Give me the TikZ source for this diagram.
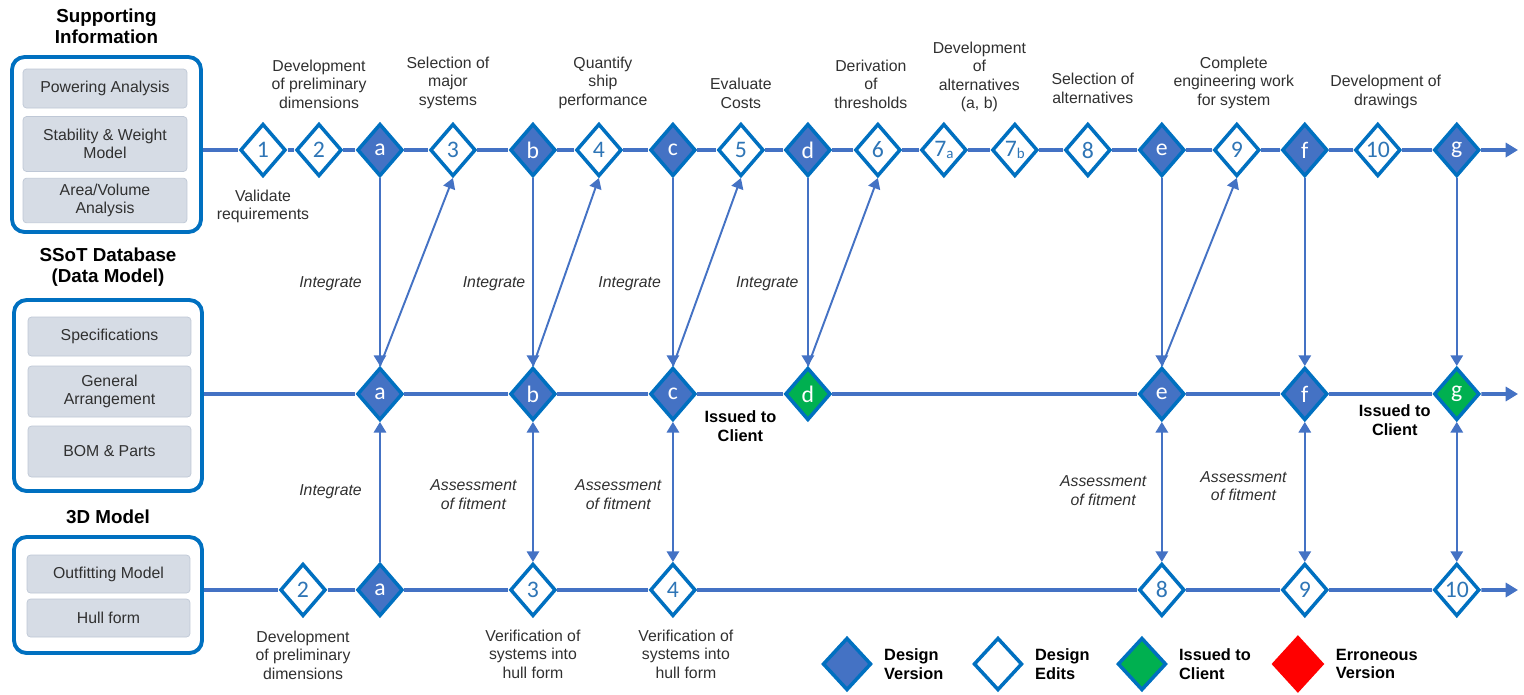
\documentclass[tikz,border=0pt]{standalone}
\usepackage{fontspec}
\setmainfont{Liberation Sans}
\newfontfamily\diafont{Carlito}
\usetikzlibrary{shapes.geometric,arrows.meta,positioning,calc}
\definecolor{verblue}{HTML}{4472C4}
\definecolor{rimblue}{HTML}{0070C0}
\definecolor{edittext}{HTML}{2E75B6}
\definecolor{issgreen}{HTML}{00B050}
\definecolor{boxgrey}{HTML}{D6DCE5}
\definecolor{boxline}{HTML}{BFC8D6}
\definecolor{txtgrey}{HTML}{303030}
\newcommand{\lowidx}[1]{{\fontsize{8.5}{8.5}\selectfont\raisebox{-0.4ex}{#1}}}
\tikzset{
    dia/.style = {diamond, draw=rimblue, line width=2pt,
        minimum width=0.91cm, minimum height=1.05cm, inner sep=0pt,
        font=\diafont\fontsize{13.5}{14}\selectfont},
    ver/.style = {dia, fill=verblue, text=white},
    edit/.style = {dia, fill=white, text=edittext},
    iss/.style = {dia, fill=issgreen, text=white},
    err/.style = {diamond, fill=red, minimum width=1.06cm, minimum height=1.16cm, inner sep=0pt},
    panel/.style = {draw=rimblue, line width=2.2pt, rounded corners=0.25cm, fill=white},
    item/.style = {draw=boxline, fill=boxgrey, rounded corners=2pt, minimum width=3.28cm,
        align=center, text=txtgrey, font=\fontsize{9}{10.4}\selectfont},
    head/.style = {align=center, font=\bfseries\fontsize{10.7}{12.3}\selectfont},
    lbl/.style = {align=center, text=txtgrey, font=\fontsize{9}{10.4}\selectfont},
    act/.style = {lbl, font=\itshape\fontsize{9}{10.4}\selectfont},
    key/.style = {align=left, font=\bfseries\fontsize{9.3}{10.6}\selectfont},
    track/.style = {draw=verblue, line width=2.2pt},
    trackend/.style = {track, -{Triangle[length=7pt,width=8pt]}},
    link/.style = {draw=verblue, line width=1.1pt}
}

\begin{document}
\begin{tikzpicture}[x=0.02cm, y=-0.02cm, >={Triangle[length=6pt,width=7pt]}]
        \useasboundingbox (0,0) rectangle (1524,694);
        % information sources
        \node [panel, minimum width=3.78cm, minimum height=3.5cm] (sup) at (106.5,144.5) {};
        \node [head, above=0.1cm of sup] (suptitle) {Supporting\\Information};
        \node [item, minimum height=0.78cm] (pow) at (105,88.5) {Powering Analysis};
        \node [item, minimum height=1.1cm] (stab) at (105,144) {Stability \& Weight\\Model};
        \node [item, minimum height=0.82cm] (area) at (105,200.5) {Area/Volume\\Analysis};
        \node [panel, minimum width=3.76cm, minimum height=3.82cm] (dbm) at (108,395.5) {};
        \node [head, above=0.1cm of dbm] (dbmtitle) {SSoT Database\\(Data Model)};
        \node [item, minimum width=3.26cm, minimum height=0.78cm] (spec) at (109.5,336.5) {Specifications};
        \node [item, minimum width=3.26cm, minimum height=1.02cm] (ga) at (109.5,391.5) {General\\Arrangement};
        \node [item, minimum width=3.26cm, minimum height=1.02cm] (bom) at (109.5,451.5) {BOM \& Parts};
        \node [panel, minimum width=3.76cm, minimum height=2.32cm] (mdl) at (108,595) {};
        \node [head, above=0.1cm of mdl] (mdltitle) {3D Model};
        \node [item, minimum width=3.26cm, minimum height=0.76cm] (outf) at (108.5,574) {Outfitting Model};
        \node [item, minimum width=3.26cm, minimum height=0.76cm] (hull) at (108.5,618) {Hull form};
        % supporting information row
        \node [edit] (t1) at (263,150) {1};
        \foreach \n/\p/\d/\s/\t in {2/1/1.12/edit/2, a/2/1.22/ver/a, 3/a/1.46/edit/3, b/3/1.60/ver/b,
            4/b/1.32/edit/4, c/4/1.48/ver/c, 5/c/1.36/edit/5, d/5/1.34/ver/d, 6/d/1.40/edit/6,
            7a/6/1.32/edit/{7\lowidx{a}}, 7b/7a/1.42/edit/{7\lowidx{b}}, 8/7b/1.46/edit/8, e/8/1.48/ver/e,
            9/e/1.50/edit/9, f/9/1.36/ver/f, 10/f/1.46/edit/10, g/10/1.58/ver/g}{
            \node [\s, right of=t\p, node distance=\d cm] (t\n) {\t};
        }
        % database row
        \foreach \v/\s in {a/ver, b/ver, c/ver, d/iss, e/ver, f/ver, g/iss}{
            \node [\s, below of=t\v, node distance=4.88cm] (m\v) {\v};
        }
        % 3D model row
        \node [ver, below of=ma, node distance=3.92cm] (ba) {a};
        \node [edit, left of=ba, node distance=1.54cm] (b2) {2};
        \foreach \n/\v in {3/b, 4/c, 8/e, 9/f, 10/g}{
            \node [edit, below of=m\v, node distance=3.92cm] (b\n) {\n};
        }
        \coordinate (topend) at (1518,150);
        \coordinate (midend) at (1518,394);
        \coordinate (botend) at (1518,590);
        \draw [track] (sup.east |- t1) -- (t1) -- (t2) -- (ta) -- (t3) -- (tb) -- (t4) -- (tc) -- (t5) -- (td)
            -- (t6) -- (t7a) -- (t7b) -- (t8) -- (te) -- (t9) -- (tf) -- (t10) -- (tg);
        \draw [trackend] (tg) -- (topend);
        \draw [track] (dbm.east |- ma) -- (ma) -- (mb) -- (mc) -- (md) -- (me) -- (mf) -- (mg);
        \draw [trackend] (mg) -- (midend);
        \draw [track] (mdl.east |- b2) -- (b2) -- (ba) -- (b3) -- (b4) -- (b8) -- (b9) -- (b10);
        \draw [trackend] (b10) -- (botend);
        % connectors
        \foreach \v/\g in {a/6.5pt, b/0.5pt, c/3pt, d/1.5pt}{
            \draw [link,->] (t\v) -- node [act, left=\g, pos=0.56] {Integrate} (m\v);
        }
        \foreach \v in {e,f,g}{
            \draw [link,->] (t\v) -- (m\v);
        }
        \foreach \v/\n in {a/3, b/4, c/5, d/6, e/9}{
            \draw [link,->] (m\v.north) -- (t\n.south);
        }
        \draw [link,->] (ba) -- node [act, left=6.5pt] {Integrate} (ma);
        \foreach \v/\n/\g/\p in {b/3/5.5pt/0.52, c/4/2.7pt/0.52, e/8/5pt/0.49, f/9/6.5pt/0.46}{
            \draw [link,<->] (m\v) -- node [act, left=\g, pos=\p] {Assessment\\of fitment} (b\n);
        }
        \draw [link,<->] (mg) -- (b10);
        % step descriptions
        \node [lbl, below=0.12cm of t1] (l1) {Validate\\requirements};
        \node [lbl, above=0.15cm of t2] (l2) {Development\\of preliminary\\dimensions};
        \node [lbl, above=0.15cm of t3, xshift=-0.1cm] (l3) {Selection of\\major\\systems};
        \node [lbl, above=0.15cm of t4, xshift=0.08cm] (l4) {Quantify\\ship\\performance};
        \node [lbl, above=0.15cm of t5] (l5) {Evaluate\\Costs};
        \node [lbl, above=0.15cm of t6, xshift=-0.14cm] (l6) {Derivation\\of\\thresholds};
        \coordinate (t7mid) at ($(t7a.north)!0.5!(t7b.north)$);
        \node [lbl, above=0.08cm of t7mid] (l7) {Development\\of\\alternatives\\(a, b)};
        \node [lbl, above=0.25cm of t8, xshift=0.1cm] (l8) {Selection of\\alternatives};
        \node [lbl, above=0.15cm of t9, xshift=-0.06cm] (l9) {Complete\\engineering work\\for system};
        \node [lbl, above=0.15cm of t10, xshift=0.16cm] (l10) {Development of\\drawings};
        \node [lbl, below=0.14cm of b2] (lb2) {Development\\of preliminary\\dimensions};
        \node [lbl, below=0.12cm of b3] (lb3) {Verification of\\systems into\\hull form};
        \node [lbl, below=0.12cm of b4, xshift=0.26cm] (lb4) {Verification of\\systems into\\hull form};
        \node [key, align=center] (issd) at ($(mc)!0.5!(md)+(0,32)$) {Issued to\\Client};
        \node [key, align=center] (issg) at ($(mf)!0.5!(mg)+(14,26)$) {Issued to\\Client};
        % legend
        \node [ver, minimum width=0.97cm] (keyver) at (847,664) {};
        \node [edit, minimum width=0.97cm, right of=keyver, node distance=3.02cm] (keyedit) {};
        \node [iss, minimum width=0.97cm, right of=keyedit, node distance=2.88cm] (keyiss) {};
        \node [err, right of=keyiss, node distance=3.12cm] (keyerr) {};
        \node [key, right=0.1cm of keyver] (keyvert) {Design\\Version};
        \node [key, right=0.1cm of keyedit] (keyeditt) {Design\\Edits};
        \node [key, right=0.1cm of keyiss] (keyisst) {Issued to\\Client};
        \node [key, right=0.1cm of keyerr] (keyerrt) {Erroneous\\Version};
\end{tikzpicture}
\end{document}
